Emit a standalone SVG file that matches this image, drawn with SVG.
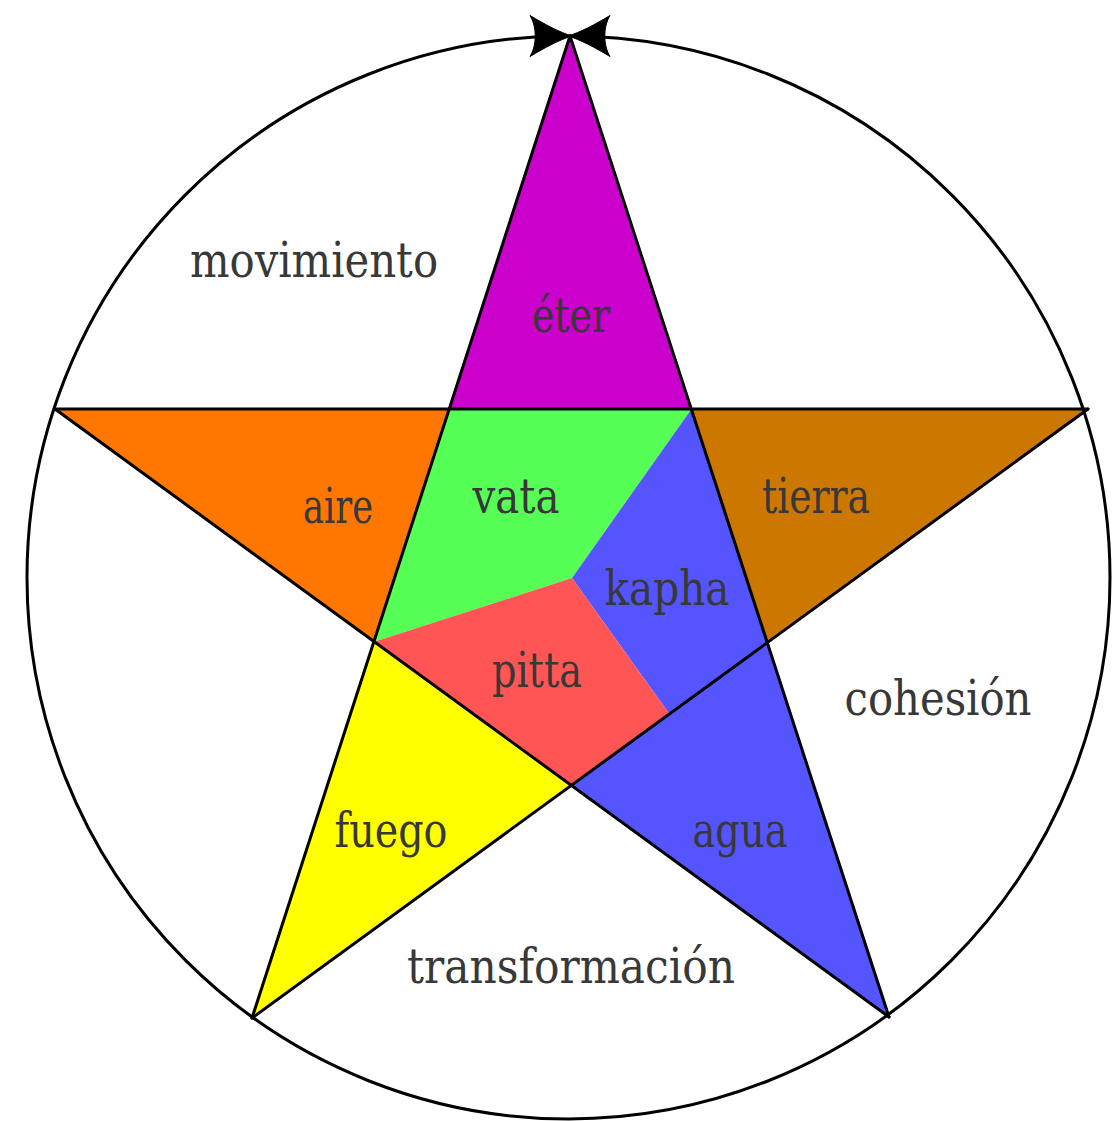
<svg xmlns="http://www.w3.org/2000/svg" width="1112" height="1121" viewBox="0 0 1112 1121">
<style>
.lbl{font-family:"DejaVu Serif Condensed","DejaVu Serif","Liberation Serif",serif;font-stretch:condensed;font-size:48px;fill:#383838;text-anchor:middle}
.ln{stroke:#000;stroke-width:3;fill:none;stroke-linecap:round}
.ah{fill:#000;stroke:#000;stroke-width:1}
</style>
<defs>
<path id="arrow" d="M 0,0 C -12,-3.5 -27,-11.5 -42,-20.5 C -35,-9.5 -35,9.5 -42,20.5 C -27,11.5 -12,3.5 0,0 Z"/>
</defs>
<rect width="1112" height="1121" fill="#fff"/>
<g id="eter"><polygon points="570,36 448.5,409 691.5,409" fill="#cc00cc"/><text class="lbl" x="571" y="332" textLength="78" lengthAdjust="spacingAndGlyphs">éter</text></g>
<g id="aire"><polygon points="55,409 448.5,409 373.5,642" fill="#ff7700"/><text class="lbl" x="338" y="523" textLength="70" lengthAdjust="spacingAndGlyphs">aire</text></g>
<g id="tierra"><polygon points="691.5,409 1088,409 768,642" fill="#cc7700"/><text class="lbl" x="816" y="513" textLength="108" lengthAdjust="spacingAndGlyphs">tierra</text></g>
<g id="fuego"><polygon points="373.5,642 570,785 252,1018" fill="#ffff00"/><text class="lbl" x="391" y="847" textLength="113" lengthAdjust="spacingAndGlyphs">fuego</text></g>
<g id="agua"><polygon points="570,785 768,642 889,1017" fill="#5555ff"/><text class="lbl" x="740" y="847" textLength="95" lengthAdjust="spacingAndGlyphs">agua</text></g>
<g id="vata"><polygon points="448.5,409 691.5,409 572,578 373.5,642" fill="#55ff55"/><text class="lbl" x="516" y="513" textLength="87" lengthAdjust="spacingAndGlyphs">vata</text></g>
<g id="kapha"><polygon points="691.5,409 768,642 669,713.5 572,578" fill="#5555ff"/><text class="lbl" x="667" y="605" textLength="125" lengthAdjust="spacingAndGlyphs">kapha</text></g>
<g id="pitta"><polygon points="572,578 669,713.5 570,785 373.5,642" fill="#ff5555"/><text class="lbl" x="537" y="687" textLength="90" lengthAdjust="spacingAndGlyphs">pitta</text></g>
<g id="movimiento"><text class="lbl" x="314" y="277" textLength="248" lengthAdjust="spacingAndGlyphs">movimiento</text></g>
<g id="cohesion"><text class="lbl" x="938" y="715" textLength="187" lengthAdjust="spacingAndGlyphs">cohesión</text></g>
<g id="transformacion"><text class="lbl" x="571" y="983" textLength="328" lengthAdjust="spacingAndGlyphs">transformación</text></g>
<g id="connectors">
<circle class="ln" cx="568.5" cy="577.5" r="541.5"/>
<line class="ln" x1="570" y1="36" x2="252" y2="1018"/>
<line class="ln" x1="570" y1="36" x2="889" y2="1017"/>
<line class="ln" x1="55" y1="409" x2="1088" y2="409"/>
<line class="ln" x1="55" y1="409" x2="889" y2="1017"/>
<line class="ln" x1="1088" y1="409" x2="252" y2="1018"/>
<use href="#arrow" class="ah" transform="translate(572,36)"/>
<use href="#arrow" class="ah" transform="translate(568,36) scale(-1,1)"/>
</g>
</svg>
